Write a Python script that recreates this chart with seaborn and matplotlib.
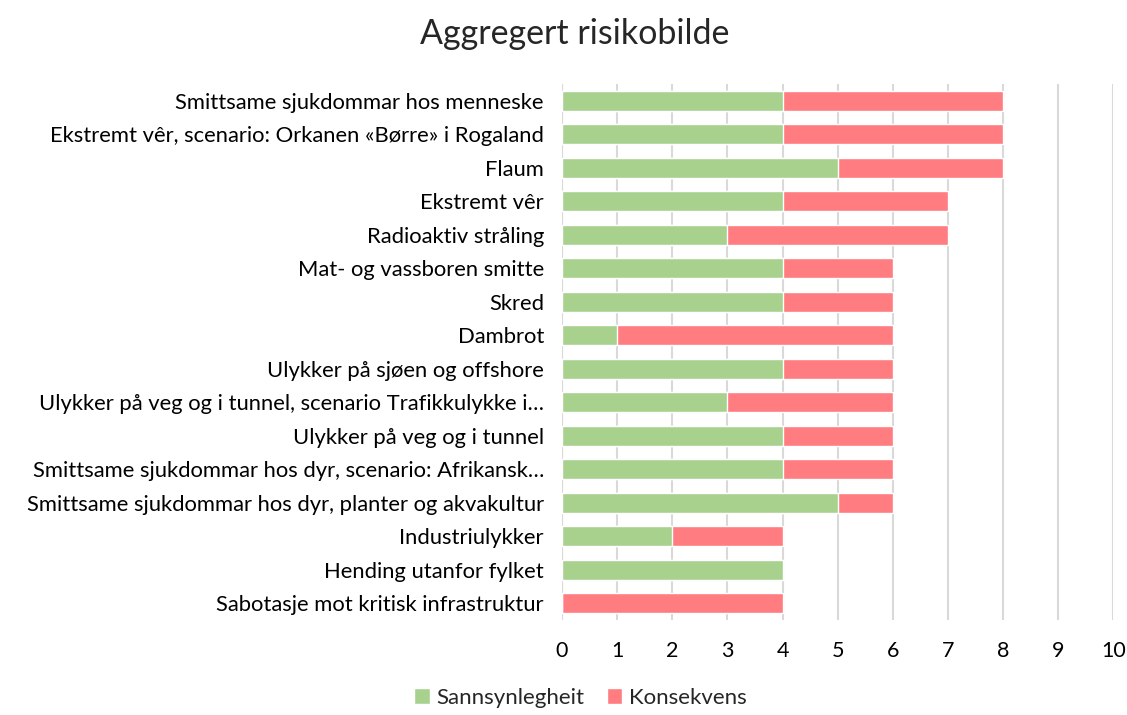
import matplotlib
matplotlib.use("Agg")
import matplotlib.pyplot as plt
import seaborn as sns
import pandas as pd
from matplotlib.patches import Patch

categories = [
    "Smittsame sjukdommar hos menneske",
    "Ekstremt vêr, scenario: Orkanen «Børre» i Rogaland",
    "Flaum",
    "Ekstremt vêr",
    "Radioaktiv stråling",
    "Mat- og vassboren smitte",
    "Skred",
    "Dambrot",
    "Ulykker på sjøen og offshore",
    "Ulykker på veg og i tunnel, scenario Trafikkulykke i…",
    "Ulykker på veg og i tunnel",
    "Smittsame sjukdommar hos dyr, scenario: Afrikansk…",
    "Smittsame sjukdommar hos dyr, planter og akvakultur",
    "Industriulykker",
    "Hending utanfor fylket",
    "Sabotasje mot kritisk infrastruktur",
]
sannsynlegheit = [4, 4, 5, 4, 3, 4, 4, 1, 4, 3, 4, 4, 5, 2, 4, 0]
konsekvens = [4, 4, 3, 3, 4, 2, 2, 5, 2, 3, 2, 2, 1, 2, 0, 4]
ticks = list(range(0, 11))

GREEN = "#a9d18e"
RED = "#ff7c80"

sns.set_theme(style="white")
plt.rcParams["font.family"] = ["Lato", "DejaVu Sans"]

df = pd.DataFrame({
    "kategori": categories,
    "Sannsynlegheit": sannsynlegheit,
    "Konsekvens": konsekvens,
})
df["Total"] = df["Sannsynlegheit"] + df["Konsekvens"]

fig = plt.figure(figsize=(11.27, 7.15), dpi=100)
ax = fig.add_axes([0.4987, 0.1329, 0.988 - 0.4987, 0.8825 - 0.1329])

# stacked bars: full length in red, likelihood part in green on top
sns.barplot(data=df, x="Total", y="kategori", color=RED, width=0.6,
            saturation=1, ax=ax, zorder=3)
sns.barplot(data=df, x="Sannsynlegheit", y="kategori", color=GREEN, width=0.6,
            saturation=1, ax=ax, zorder=4)

ax.set_xlim(0, 10)
ax.set_ylim(len(categories) - 0.5, -0.5)
ax.set_xticks(ticks)
ax.set_xticklabels([str(t) for t in ticks])
ax.xaxis.grid(True, color="#d9d9d9", linewidth=1.5, zorder=0)
ax.yaxis.grid(False)
for s in ax.spines.values():
    s.set_visible(False)
ax.axvline(0, color="#d9d9d9", linewidth=1.5, zorder=2)
ax.set_xlabel("")
ax.set_ylabel("")
ax.tick_params(axis="x", length=0, pad=15, labelsize=15.5, colors="black")
ax.tick_params(axis="y", length=0, pad=13, labelsize=15.8, colors="black")

fig.suptitle("Aggregert risikobilde", x=0.51, y=0.975, fontsize=24.5, va="top")

handles = [Patch(facecolor=GREEN, label="Sannsynlegheit"),
           Patch(facecolor=RED, label="Konsekvens")]
fig.legend(handles=handles, loc="lower center", bbox_to_anchor=(0.515, -0.018),
           ncol=2, frameon=False, fontsize=16, handlelength=0.7,
           handleheight=0.7, handletextpad=0.3, columnspacing=1.0)

fig.savefig("out.png", dpi=100)
